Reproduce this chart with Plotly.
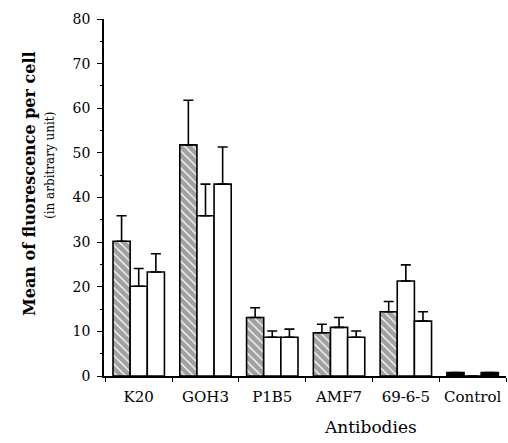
import plotly.graph_objects as go

categories = ["K20", "GOH3", "P1B5", "AMF7", "69-6-5", "Control"]
series1 = [30.2, 51.8, 13.1, 9.7, 14.4, 0.8]
err1 = [5.7, 10.0, 2.2, 1.9, 2.3, 0.0]
series2 = [20.1, 35.9, 8.7, 10.9, 21.3, 0.0]
err2 = [4.0, 7.1, 1.4, 2.2, 3.6, 0.0]
series3 = [23.3, 43.0, 8.7, 8.7, 12.3, 0.8]
err3 = [4.1, 8.3, 1.8, 1.4, 2.1, 0.0]
yticks = [0, 10, 20, 30, 40, 50, 60, 70, 80]

W, H = 508, 443
L, R, T, B = 104, 2, 19, 67
pw, ph = W - L - R, H - T - B

def px(x):
    return (x - L) / pw

def py(y):
    return (H - B - y) / ph

font = "DejaVu Serif"
fig = go.Figure()

# the Control bars are so short that they print solid black
n = len(categories)
fill_colors = ["white"] * (n - 1) + ["black"]
hatch_shapes = ["\\"] * (n - 1) + [""]

def add(vals, errs, hatched):
    marker = dict(color=fill_colors, line=dict(color="black", width=1.6))
    if hatched:
        marker["pattern"] = dict(shape=hatch_shapes, fgcolor="black",
                                 bgcolor="white", size=6, solidity=0.8)
    fig.add_trace(go.Bar(
        x=categories, y=vals, marker=marker,
        error_y=dict(type="data", array=errs, arrayminus=[0] * len(errs),
                     symmetric=False, color="black", thickness=1.6, width=5),
        showlegend=False, hoverinfo="skip",
    ))

add(series1, err1, True)
add(series2, err2, False)
add(series3, err3, False)

fig.update_layout(
    width=W, height=H,
    margin=dict(l=L, r=R, t=T, b=B, autoexpand=False),
    paper_bgcolor="white", plot_bgcolor="white",
    barmode="group", bargap=0.23, bargroupgap=0,
    font=dict(family=font, color="black"),
    xaxis=dict(
        type="category", automargin=False,
        range=[-0.52, 5.5], showline=True, linecolor="black", linewidth=1.6,
        ticks="outside", tickson="boundaries", ticklen=4, tickwidth=1,
        tickcolor="black", showgrid=False, zeroline=False,
        tickfont=dict(size=15, family=font), ticklabelstandoff=6,
    ),
    yaxis=dict(
        automargin=False,
        range=[0, 80], tickvals=yticks, showline=True, linecolor="black",
        linewidth=1.6, ticks="outside", ticklen=5, tickwidth=1.2,
        tickcolor="black", showgrid=False, zeroline=False,
        tickfont=dict(size=14, family=font), ticklabelstandoff=4,
        minor=dict(dtick=5, ticks="outside", ticklen=2, tickcolor="black",
                   showgrid=False),
    ),
    annotations=[
        dict(text="<b>Mean of fluorescence per cell</b>", xref="paper",
             yref="paper", x=px(29), y=py(184), textangle=-90,
             showarrow=False, font=dict(size=16, family=font),
             xanchor="center", yanchor="middle"),
        dict(text="(in arbitrary unit)", xref="paper", yref="paper",
             x=px(50), y=py(166), textangle=-90, showarrow=False,
             font=dict(size=12, family=font), xanchor="center",
             yanchor="middle"),
        dict(text="Antibodies", xref="paper", yref="paper", x=px(370),
             y=py(427), showarrow=False, font=dict(size=17, family=font),
             xanchor="center", yanchor="middle"),
    ],
)

fig.write_html("out.html",
               config={"displayModeBar": False},
               post_script="document.body.style.margin='0';"
                           "document.body.style.overflow='hidden';")
